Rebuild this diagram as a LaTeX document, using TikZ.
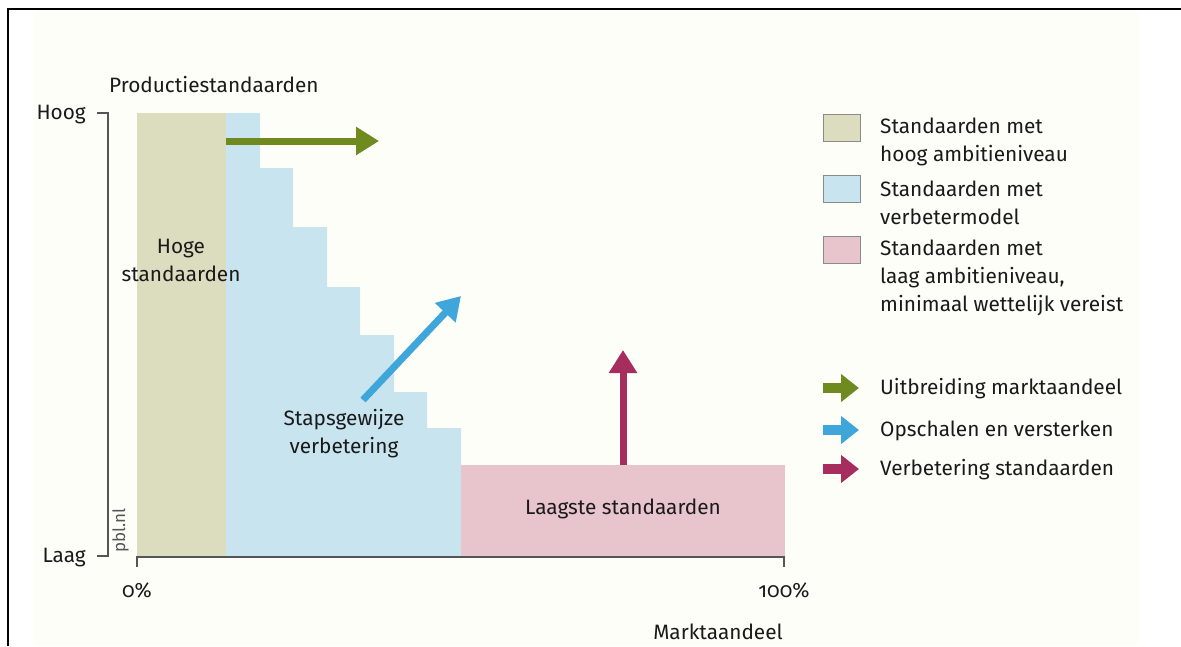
\documentclass[tikz,border=0pt]{standalone}
\usepackage{fontspec}
\setmainfont{Fira Sans}[Numbers=OldStyle]
\usetikzlibrary{arrows.meta}
\definecolor{cream}{HTML}{FEFEF8}
\definecolor{tanfill}{HTML}{DCDDBF}
\definecolor{bluefill}{HTML}{C7E4EF}
\definecolor{pinkfill}{HTML}{E8C4CD}
\definecolor{greenarr}{HTML}{6F8A1F}
\definecolor{bluearr}{HTML}{3EA6DA}
\definecolor{magarr}{HTML}{A62D5E}
\definecolor{axisgray}{HTML}{555555}
\definecolor{txt}{HTML}{1A1A1A}
\definecolor{swatchedge}{HTML}{8A8A8A}
\begin{document}
\begin{tikzpicture}[x=1pt,y=-1pt,
  lbl/.style={inner sep=0pt, text=txt, font=\fontsize{20.8}{28}\selectfont},
  axisline/.style={draw=axisgray, line width=1.2pt},
  bigarrow/.style={line width=7pt, -{Triangle[length=23pt,width=27pt]}},
  legarrow/.style={line width=10pt, -{Triangle[length=18pt,width=27pt]}},
  swatch/.style={draw=swatchedge, line width=1pt, minimum width=37pt, minimum height=27pt, inner sep=0pt}
]
\useasboundingbox (0,0) rectangle (1181,646);
\fill[white] (0,0) rectangle (1181,646);
\fill[cream] (33,10) rectangle (1139,646);
\draw[line width=2.5pt] (8,646) -- (8,9) -- (1181,9);

% areas
\fill[tanfill] (137,113) rectangle (226,556);
\fill[bluefill] (226,556) -- (226,113) -- (260,113) -- (260,168) -- (293,168) -- (293,227)
  -- (327,227) -- (327,287) -- (360,287) -- (360,335) -- (394,335) -- (394,392)
  -- (427,392) -- (427,428) -- (461,428) -- (461,556) -- cycle;
\fill[pinkfill] (461,465) rectangle (785,556);

% axes
\draw[axisline] (97,113) -- (108,113) -- (108,556) -- (97,556);
\draw[axisline] (137,567) -- (137,557) -- (784,557) -- (784,567);

% axis labels
\node[lbl, anchor=east] (hoog) at (86,115) {Hoog};
\node[lbl, anchor=east] (laag) at (86,558) {Laag};
\node[lbl, anchor=west] (ytitle) at (109,85) {Productiestandaarden};
\node[lbl] (x0) at (137,590) {0\%};
\node[lbl] (x100) at (784,590) {100\%};
\node[lbl] (xtitle) at (718,632) {Marktaandeel};
\node[inner sep=0pt, text=axisgray, font=\fontsize{17}{20}\selectfont, rotate=90, anchor=south west] (pbl) at (129,553) {pbl.nl};

% area labels
\node[lbl, align=center] (hoge) at (181,260) {Hoge\\standaarden};
\node[lbl, align=center] (staps) at (344,434) {Stapsgewijze\\verbetering};
\node[lbl] (laagste) at (623,509) {Laagste standaarden};

% arrows
\coordinate (g0) at (226,141);
\coordinate (g1) at (379,141);
\coordinate (b0) at (363,400);
\coordinate (b1) at (461,296);
\coordinate (m0) at (623,465);
\coordinate (m1) at (623,350);
\draw[bigarrow, greenarr] (g0) -- (g1);
\draw[bigarrow, bluearr] (b0) -- (b1);
\draw[bigarrow, magarr] (m0) -- (m1);

% legend
\node[swatch, fill=tanfill] (sw1) at (841.5,127.5) {};
\node[swatch, fill=bluefill] (sw2) at (841.5,189) {};
\node[swatch, fill=pinkfill] (sw3) at (841.5,250) {};
\node[lbl, anchor=west, align=left] (lg1) at (880,142) {Standaarden met\\hoog ambitieniveau};
\node[lbl, anchor=west, align=left] (lg2) at (880,203) {Standaarden met\\verbetermodel};
\node[lbl, anchor=west, align=left] (lg3) at (880,278) {Standaarden met\\laag ambitieniveau,\\minimaal wettelijk vereist};

\coordinate (la1) at (823,388);
\coordinate (la1e) at (859,388);
\coordinate (la2) at (823,430);
\coordinate (la2e) at (859,430);
\coordinate (la3) at (823,469);
\coordinate (la3e) at (859,469);
\draw[legarrow, greenarr] (la1) -- (la1e);
\draw[legarrow, bluearr] (la2) -- (la2e);
\draw[legarrow, magarr] (la3) -- (la3e);
\node[lbl, anchor=west] (lt1) at (880,389) {Uitbreiding marktaandeel};
\node[lbl, anchor=west] (lt2) at (880,431) {Opschalen en versterken};
\node[lbl, anchor=west] (lt3) at (880,470) {Verbetering standaarden};
\end{tikzpicture}
\end{document}
